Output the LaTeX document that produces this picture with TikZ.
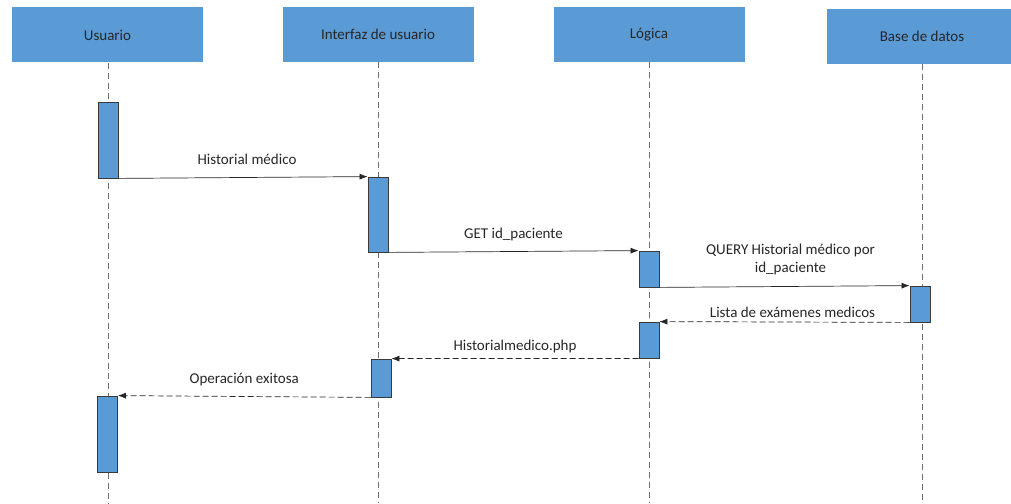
\documentclass[tikz,border=0pt]{standalone}
\usepackage{fontspec}
\setmainfont{Carlito}
\usetikzlibrary{positioning,arrows.meta}
\definecolor{boxblue}{HTML}{5B9BD5}
\definecolor{barline}{HTML}{3A3A3A}
\definecolor{lifegray}{HTML}{6F6F6F}
\tikzstyle{actor}=[fill=boxblue, minimum width=191pt, minimum height=55pt, inner sep=0pt, font=\fontsize{15}{18}\selectfont, text=black!85]
\tikzstyle{bar}=[draw=barline, fill=boxblue, minimum width=20pt, inner sep=0pt, line width=0.8pt]
\tikzstyle{life}=[draw=lifegray, line width=0.8pt, dash pattern=on 6pt off 4pt]
\tikzstyle{msg}=[-{Latex[length=8pt, width=6pt]}, line width=0.7pt, draw=black!85]
\tikzstyle{ret}=[msg, dash pattern=on 6pt off 3pt]
\tikzstyle{lbl}=[anchor=base, inner sep=0pt, font=\fontsize{15}{18}\selectfont, text=black!85]

\begin{document}
\begin{tikzpicture}[x=1pt, y=-1pt]
		\useasboundingbox (0,0) rectangle (1011,503);
		% lifelines
		\node[actor] (u) at (107.5, 35) {Usuario};
		\node[actor] (i) at (378, 34.5) {Interfaz de usuario};
		\node[actor] (l) at (649, 34.5) {Lógica};
		\node[actor] (b) at (922, 36.5) {Base de datos};
		\coordinate (uend) at (108, 503);
		\coordinate (iend) at (378, 503);
		\coordinate (lend) at (649, 503);
		\coordinate (bend) at (922, 503);
		\draw[life] (u.south -| uend) -- (uend);
		\draw[life] (i.south) -- (iend);
		\draw[life] (l.south) -- (lend);
		\draw[life] (b.south) -- (bend);
		% activations
		\node[bar, minimum height=76pt] (u1) at (108, 140) {};
		\node[bar, minimum height=75pt] (i1) at (378, 214.5) {};
		\node[bar, minimum height=36pt] (l1) at (649, 269) {};
		\node[bar, minimum height=36pt] (b1) at (920, 304) {};
		\node[bar, minimum height=36pt] (l2) at (649, 340) {};
		\node[bar, minimum height=38pt] (i2) at (381, 378) {};
		\node[bar, minimum height=76pt] (u2) at (107.5, 434) {};
		% messages
		\draw[msg] (u1.south east) -- (i1.north west) node[lbl, midway, yshift=13pt, xshift=4pt] {Historial médico};
		\draw[msg] (i1.south east) -- (l1.north west) node[lbl, midway, yshift=13pt] {GET id\_paciente};
		\draw[msg] (l1.south east) -- (b1.north west) node[lbl, midway, yshift=14pt, xshift=6pt, align=center] {QUERY Historial médico por\\id\_paciente};
		\draw[ret] (b1.south west) -- (l2.north east) node[lbl, midway, yshift=5pt, xshift=8pt] {Lista de exámenes medicos};
		\draw[ret] (l2.south west) -- (i2.north east) node[lbl, midway, yshift=8pt] {Historialmedico.php};
		\draw[ret] (i2.south west) -- (u2.north east) node[lbl, midway, yshift=13pt] {Operación exitosa};
	\end{tikzpicture}
\end{document}
